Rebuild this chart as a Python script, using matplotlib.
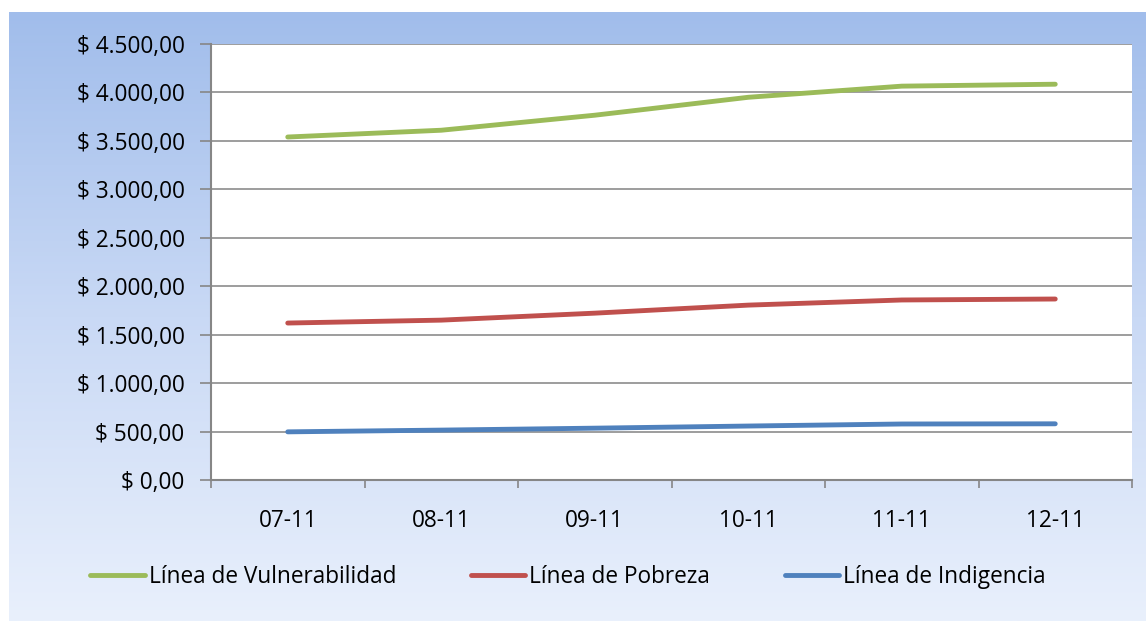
import numpy as np
import matplotlib
matplotlib.use("Agg")
import matplotlib.pyplot as plt
from matplotlib.colors import LinearSegmentedColormap

# -----------------------------
# Data
# -----------------------------

months = ["07-11", "08-11", "09-11", "10-11", "11-11", "12-11"]

vulnerabilidad = [3540, 3610, 3765, 3950, 4065, 4085]
pobreza = [1620, 1650, 1722, 1805, 1858, 1868]
indigencia = [497, 515, 535, 557, 578, 580]

series_names = ["Línea de Vulnerabilidad", "Línea de Pobreza", "Línea de Indigencia"]
series_colors = ["#9BBB59", "#C0504D", "#4F81BD"]

y_ticks = np.arange(0, 4501, 500)

# -----------------------------
# Figure
# -----------------------------

plt.rcParams["font.family"] = ["Open Sans", "DejaVu Sans"]
FS = 16.3

W, H = 1146, 621
fig = plt.figure(figsize=(W / 100, H / 100), dpi=100, facecolor="white")

# gradient background panel
bg = fig.add_axes([9 / W, 0, 1 - 9 / W, (H - 12) / H])
cmap = LinearSegmentedColormap.from_list("bg", ["#A1BDEB", "#C9D9F5", "#E9F0FC"])
grad = np.linspace(0, 1, 256).reshape(-1, 1)
bg.imshow(grad, aspect="auto", cmap=cmap, extent=[0, 1, 0, 1], origin="upper")
bg.set_axis_off()

ax = fig.add_axes([211 / W, (H - 480) / H, 921 / W, 436 / H])
ax.set_facecolor("white")

x = np.arange(len(months))
for vals, name, col in zip([vulnerabilidad, pobreza, indigencia], series_names, series_colors):
    ax.plot(x, vals, color=col, lw=3.5, solid_capstyle="round",
            solid_joinstyle="round", label=name, zorder=3)

ax.set_xlim(-0.5, len(months) - 0.5)
ax.set_ylim(0, 4500)

ax.set_yticks(y_ticks)
def fmt(v):
    s = f"{v:,.2f}"
    s = s.replace(",", "X").replace(".", ",").replace("X", ".")
    return "$ " + s
ax.set_yticklabels([fmt(v) for v in y_ticks], fontsize=FS)
ax.yaxis.grid(True, color="#8C8C8C", lw=1.2)
ax.set_axisbelow(True)

ax.set_xticks(x)
ax.set_xticklabels(months, fontsize=FS)
ax.set_xticks(np.arange(-0.5, len(months)), minor=True)
ax.tick_params(axis="x", which="major", length=0, pad=21)
ax.tick_params(axis="x", which="minor", length=6, color="#868686", width=1.2)
ax.tick_params(axis="y", length=8, color="#868686", width=1.2, pad=11)

for side in ["top", "right"]:
    ax.spines[side].set_visible(False)
for side in ["left", "bottom"]:
    ax.spines[side].set_color("#868686")
    ax.spines[side].set_linewidth(1.5)

leg = fig.legend(loc="center", bbox_to_anchor=(568 / W, 1 - 577 / H), ncol=3,
                 frameon=False, fontsize=FS, handlelength=2.4,
                 handletextpad=0.18, columnspacing=3.3)

fig.savefig("out.png", dpi=100, facecolor="white")
